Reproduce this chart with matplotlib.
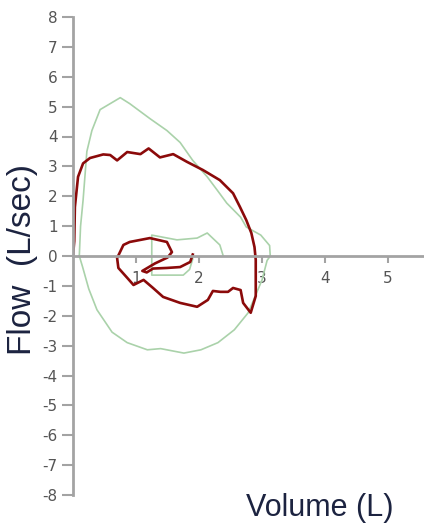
import matplotlib.pyplot as plt

plt.rcParams['axes.unicode_minus'] = False

# flow-volume loops, values
green_x = [0.10, 0.12, 0.16, 0.22, 0.30, 0.43, 0.59, 0.75, 0.90, 1.22, 1.49, 1.70, 1.90, 2.13,
           2.29, 2.44, 2.66, 2.75, 2.98, 3.12, 3.13, 3.08, 3.00, 2.78, 2.56, 2.30, 2.03, 1.76,
           1.39, 1.18, 0.86, 0.62, 0.38, 0.25, 0.15, 0.10]
green_y = [0.00, 1.00, 1.87, 3.50, 4.20, 4.90, 5.10, 5.30, 5.10, 4.60, 4.20, 3.80, 3.20, 2.65,
           2.20, 1.77, 1.30, 0.97, 0.70, 0.35, 0.00, -0.15, -0.80, -1.90, -2.47, -2.90, -3.14, -3.25,
           -3.10, -3.14, -2.90, -2.55, -1.80, -1.10, -0.35, 0.00]

green_in_x = [1.90, 1.85, 1.75, 1.49, 1.25, 1.25, 1.25, 1.65, 1.97, 2.13, 2.33, 2.38]
green_in_y = [-0.10, -0.45, -0.64, -0.64, -0.64, 0.00, 0.70, 0.54, 0.60, 0.77, 0.37, 0.03]

red_x = [0.00, 0.02, 0.03, 0.08, 0.16, 0.27, 0.48, 0.59, 0.70, 0.86, 1.07, 1.20, 1.38, 1.59,
         1.81, 2.06, 2.33, 2.54, 2.65, 2.75, 2.83, 2.88, 2.90, 2.90, 2.90, 2.82, 2.70, 2.66,
         2.54, 2.46, 2.34, 2.22, 2.14, 1.97, 1.70, 1.43, 1.27, 1.12, 0.96, 0.86, 0.72, 0.70,
         0.80, 0.90, 1.22, 1.49, 1.57, 1.50, 1.30, 1.10, 1.17, 1.27, 1.49, 1.70, 1.86, 1.90]
red_y = [0.00, 0.50, 1.64, 2.65, 3.10, 3.28, 3.40, 3.38, 3.20, 3.48, 3.41, 3.60, 3.30, 3.41,
         3.15, 2.88, 2.54, 2.10, 1.64, 1.20, 0.77, 0.30, -0.13, -0.57, -1.34, -1.90, -1.57, -1.14,
         -1.07, -1.20, -1.20, -1.17, -1.47, -1.70, -1.57, -1.37, -1.07, -0.80, -0.97, -0.73, -0.40, -0.07,
         0.37, 0.47, 0.60, 0.47, 0.13, -0.05, -0.25, -0.50, -0.55, -0.42, -0.40, -0.37, -0.20, 0.05]

y_ticks = list(range(-8, 9))
x_ticks = [1, 2, 3, 4, 5]

axis_gray = '#a3a3a3'
label_col = '#1c2340'

fig = plt.figure(figsize=(4.24, 5.26), dpi=100)
ax = fig.add_axes([73 / 424, 31 / 526, 351 / 424, 478 / 526])

ax.plot(green_x, green_y, color='#aad2aa', lw=1.2)
ax.plot(green_in_x, green_in_y, color='#aad2aa', lw=1.2)
ax.plot(red_x, red_y, color='#8b0a0a', lw=1.9)

ax.set_xlim(0, 5.57)
ax.set_ylim(-8, 8)

for s in ['top', 'right']:
    ax.spines[s].set_visible(False)
ax.spines['bottom'].set_position(('data', 0))
for s in ['left', 'bottom']:
    ax.spines[s].set_color(axis_gray)
    ax.spines[s].set_linewidth(2)

ax.set_yticks(y_ticks)
ax.set_yticklabels([str(t) for t in y_ticks])
ax.set_xticks(x_ticks)
ax.tick_params(axis='y', length=8, width=1.5, color=axis_gray, labelsize=11,
               labelcolor='#555555', pad=3)
ax.tick_params(axis='x', length=5, width=1.5, color=axis_gray, labelsize=11,
               labelcolor='#555555', pad=6)

ax.set_ylabel('Flow  (L/sec)', fontsize=24, color=label_col, family='Liberation Sans')
ax.yaxis.set_label_coords(-0.10, 0.492)
ax.set_xlabel('Volume (L)', fontsize=22, color=label_col, family='Liberation Sans')
ax.xaxis.set_label_coords(0.704, 0.004)

fig.savefig('out.png', dpi=100)
